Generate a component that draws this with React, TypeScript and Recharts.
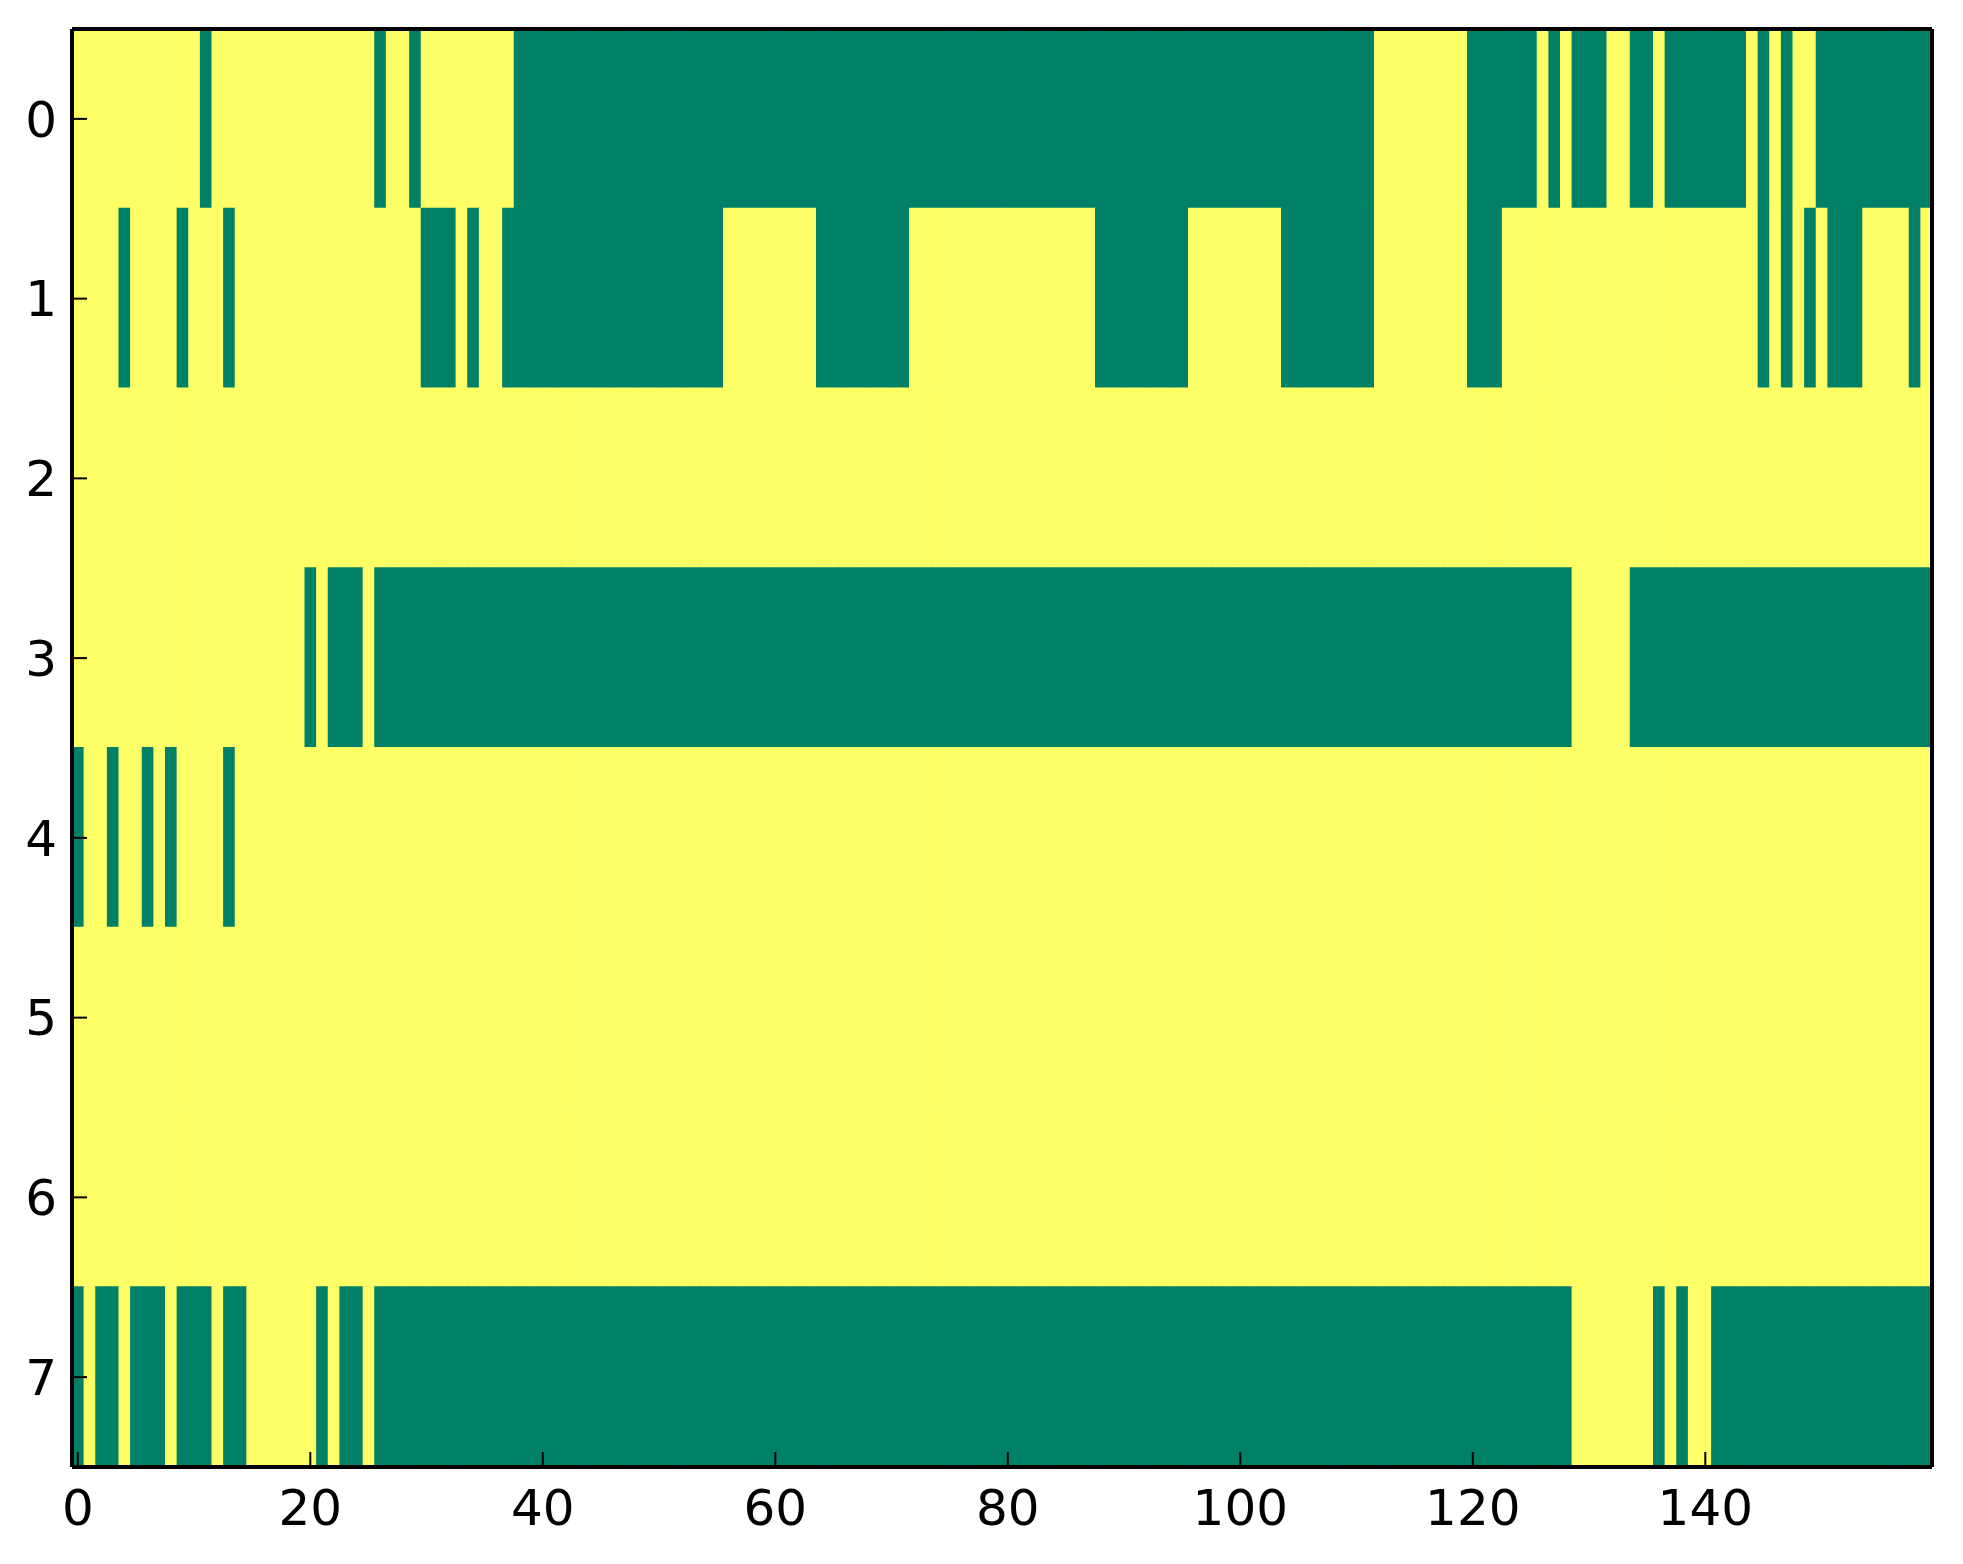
import React from 'react';
import { Bar, BarChart, Cell, Line, XAxis, YAxis } from 'recharts';

const GREEN = '#008066';
const YELLOW = '#ffff66';

const columnCount = 160;
const rowLabels = ['0', '1', '2', '3', '4', '5', '6', '7'];
const xTicks = [0, 20, 40, 60, 80, 100, 120, 140];

// green (low value) column spans per row, inclusive; every other cell is yellow
const row0Green = [[11, 11], [26, 26], [29, 29], [38, 111], [120, 125], [127, 127], [129, 131], [134, 135], [137, 143], [145, 145], [147, 147], [150, 159]];
const row1Green = [[4, 4], [9, 9], [13, 13], [30, 32], [34, 34], [37, 55], [64, 71], [88, 95], [104, 111], [120, 122], [145, 145], [147, 147], [149, 149], [151, 153], [158, 158]];
const row2Green: number[][] = [];
const row3Green = [[20, 20], [22, 24], [26, 128], [134, 159]];
const row4Green = [[0, 0], [3, 3], [6, 6], [8, 8], [13, 13]];
const row5Green: number[][] = [];
const row6Green: number[][] = [];
const row7Green = [[0, 0], [2, 3], [5, 7], [9, 11], [13, 14], [21, 21], [23, 24], [26, 128], [136, 136], [138, 138], [141, 159]];

const greenSpans = [row0Green, row1Green, row2Green, row3Green, row4Green, row5Green, row6Green, row7Green];

const cells = greenSpans.map((spans) => {
  const row = new Array(columnCount).fill(1);
  spans.forEach(([from, to]) => {
    for (let c = from; c <= to; c++) row[c] = 0;
  });
  return row;
});

const data = Array.from({ length: columnCount }, (_, col) => {
  const item: Record<string, number> = { col };
  rowLabels.forEach((_, r) => {
    item[`row${r}`] = 1;
  });
  return item;
});

const rowTicks = rowLabels.map((_, r) => r + 0.5);

const W = 1963;
const H = 1564;
const plotLeft = 72;
const plotRight = 1932;
const plotTop = 29;
const plotBottom = 1467;
const cellWidth = (plotRight - plotLeft) / columnCount;

const tickFont = { fontSize: 50, fontFamily: 'DejaVu Sans', fill: '#000', stroke: 'none' };
const frame = { stroke: '#000', strokeWidth: 4 };
const tickMark = { stroke: '#000', strokeWidth: 2 };

export default function App() {
  return (
    <div style={{ position: 'absolute', left: 0, top: 0, width: W, height: H, background: '#fff' }}>
      <BarChart
        width={W}
        height={H}
        data={data}
        margin={{ top: plotTop - 1, right: W - plotRight - 1, bottom: 0, left: 0 }}
        barCategoryGap={0}
        barGap={0}
      >
        {rowLabels.map((label, r) => (
          <Bar
            key={label}
            dataKey={`row${r}`}
            stackId="image"
            xAxisId="bottom"
            yAxisId="left"
            barSize={cellWidth}
            isAnimationActive={false}
          >
            {data.map((d) => {
              const color = cells[r][d.col] ? YELLOW : GREEN;
              return <Cell key={d.col} fill={color} stroke={color} strokeWidth={2} />;
            })}
          </Bar>
        ))}
        {/* binds the top and right axes so their frame lines and ticks are drawn */}
        <Line
          dataKey="row0"
          xAxisId="top"
          yAxisId="right"
          stroke="none"
          dot={false}
          activeDot={false}
          legendType="none"
          isAnimationActive={false}
        />
        <XAxis
          xAxisId="bottom"
          dataKey="col"
          type="number"
          domain={[-0.5, columnCount - 0.5]}
          allowDataOverflow
          ticks={xTicks}
          interval={0}
          height={H - plotBottom}
          stroke="#000"
          axisLine={frame}
          tickLine={tickMark}
          tickSize={-15}
          tickMargin={37}
          tick={tickFont}
        />
        <XAxis
          xAxisId="top"
          dataKey="col"
          orientation="top"
          type="number"
          domain={[-0.5, columnCount - 0.5]}
          allowDataOverflow
          ticks={xTicks}
          interval={0}
          height={1}
          stroke="#000"
          axisLine={frame}
          tickLine={tickMark}
          tickSize={-15}
          tick={false}
        />
        <YAxis
          yAxisId="left"
          type="number"
          domain={[0, 8]}
          reversed
          allowDataOverflow
          ticks={rowTicks}
          interval={0}
          width={plotLeft}
          stroke="#000"
          axisLine={frame}
          tickLine={tickMark}
          tickSize={-15}
          tickMargin={30}
          tick={tickFont}
          tickFormatter={(v: number) => rowLabels[Math.floor(v)]}
        />
        <YAxis
          yAxisId="right"
          orientation="right"
          type="number"
          domain={[0, 8]}
          reversed
          allowDataOverflow
          ticks={rowTicks}
          interval={0}
          width={1}
          stroke="#000"
          axisLine={frame}
          tickLine={tickMark}
          tickSize={-15}
          tick={false}
        />
      </BarChart>
    </div>
  );
}
